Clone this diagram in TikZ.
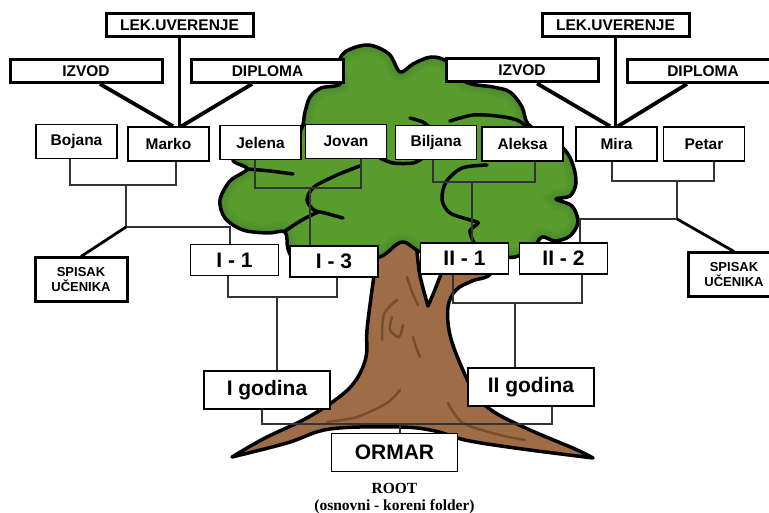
\documentclass[tikz,border=0pt]{standalone}
\usepackage{fontspec}
\setmainfont{Liberation Serif}
\setsansfont{Liberation Sans}
\usetikzlibrary{positioning,calc}

\definecolor{leaf}{RGB}{88,156,46}
\definecolor{leafdark}{RGB}{60,116,40}
\definecolor{bark}{RGB}{158,109,72}
\definecolor{barkdark}{RGB}{118,78,46}

\begin{document}
\begin{tikzpicture}[
  x=1pt, y=-1pt,
  box/.style={
    draw, fill=white, line width=1.5pt, inner sep=0pt, align=center,
    font=\sffamily\bfseries\fontsize{15.5}{17}\selectfont,
  },
  pupil/.style={box, minimum width=81pt, minimum height=34pt},
  classbox/.style={box, minimum width=88pt, minimum height=31pt,
    font=\sffamily\bfseries\fontsize{21}{24}\selectfont},
  yearbox/.style={box, minimum width=126pt, minimum height=38pt,
    font=\sffamily\bfseries\fontsize{21}{24}\selectfont},
  docbox/.style={box, line width=3pt, minimum width=152pt, minimum height=23pt},
  listbox/.style={box, line width=3pt, minimum width=92pt, minimum height=44pt,
    font=\sffamily\bfseries\fontsize{13}{15}\selectfont},
  rootnote/.style={font=\rmfamily\bfseries\fontsize{15.5}{17}\selectfont, inner sep=0pt},
  conn/.style={draw=black!80, line width=1.3pt},
  doclink/.style={draw, line width=3.8pt},
  listlink/.style={draw, line width=2.8pt},
  curl/.style={draw, line width=3.5pt, line cap=round},
  barkline/.style={draw=barkdark, line width=2.5pt, line cap=round},
  ]
  \useasboundingbox (0,0) rectangle (769,513);

  % trunk with the two roots
  \path[fill=bark, draw, line width=3.5pt, line join=round]
    plot[smooth, tension=.6] coordinates {(380,235) (376,262) (372,290) (367,330)
      (366,357) (356,380) (338,398) (305,419) (265,438) (232,457)}
    -- plot[smooth, tension=.6] coordinates {(232,457) (287,443) (330,429)
      (400,427) (435,431) (465,440) (515,448) (593,458)}
    -- plot[smooth, tension=.6] coordinates {(593,458) (575,449) (530,430)
      (494,412) (476,395) (462,368) (450,335) (448,307) (456,290) (472,281)
      (492,272) (500,235)}
    -- (446,240)
    -- plot[smooth, tension=.6] coordinates {(441,274) (434,292) (428,306)}
    -- plot[smooth, tension=.6] coordinates {(428,306) (423,288) (419,270) (416,240)}
    -- cycle;
  \draw[barkline] plot[smooth] coordinates {(407,277) (412,292) (418,305)};
  \draw[barkline] plot[smooth] coordinates {(382,340) (384,314) (397,300)};
  \draw[barkline] plot[smooth] coordinates {(392,317) (390,330) (399,337) (403,325)};
  \draw[barkline] plot[smooth] coordinates {(413,337) (416,347) (420,357)};
  \draw[barkline] plot[smooth] coordinates {(400,390) (387,403) (357,417) (327,422)};
  \draw[barkline] plot[smooth] coordinates {(448,403) (463,423) (500,435) (525,440)};

  % crown
  \path[fill=leaf, save path=\crownpath]
    plot[smooth cycle, tension=.55] coordinates {
      (300,131) (305,112) (310,97) (321,88) (340,84) (337,68) (345,52)
      (368,45) (389,54) (400,72) (413,64) (431,57) (448,62) (466,82)
      (493,87) (510,92) (522,107) (528,124) (547,136) (565,150) (573,165)
      (576,183) (570,196) (556,199) (572,206) (578,222) (570,236) (555,241)
      (542,237) (533,248) (515,257) (495,256) (476,250) (445,253) (421,252)
      (402,242) (382,256) (360,261) (330,262) (296,259) (288,249) (285,232)
      (268,233) (243,230) (225,218) (220,200) (230,181) (247,169) (233,160)
      (250,146) (277,138)};
  \begin{scope}
    \clip[use path=\crownpath];
    \foreach \w in {18,12,6}
      \draw[use path=\crownpath, leafdark, line width=\w pt, opacity=.14];
  \end{scope}
  \draw[use path=\crownpath, line width=3.5pt, line join=round];
  \draw[curl] plot[smooth] coordinates {(247,169) (270,171) (293,174)};
  \draw[curl] plot[smooth] coordinates {(360,166) (337,175) (314,187) (307,200)
    (314,210) (325,213) (343,218)};
  \draw[curl] plot[smooth] coordinates {(285,231) (302,220) (318,212)};
  \draw[curl] plot[smooth] coordinates {(487,165) (462,168) (446,182) (442,200)
    (450,213) (470,220) (478,223) (470,231) (474,243)};
  \draw[curl] plot[smooth] coordinates {(410,118) (423,122) (429,127)};
  \draw[curl] plot[smooth] coordinates {(450,121) (473,115) (497,116) (517,120) (528,128)};
  \draw[curl] plot[smooth] coordinates {(380,158) (393,163) (413,163) (423,158)};

  % documents
  \node[docbox, minimum width=147pt] (lekL) at (179.5,25.5) {LEK.UVERENJE};
  \node[docbox] (izvodL)   at (86,71)    {IZVOD};
  \node[docbox] (diplomaL) at (267.5,71) {DIPLOMA};
  \node[docbox, minimum width=147pt] (lekR) at (615.5,25.5) {LEK.UVERENJE};
  \node[docbox] (izvodR)   at (522,70.5) {IZVOD};
  \node[docbox] (diplomaR) at (703,71)   {DIPLOMA};

  % pupils
  \node[pupil] (bojana)  at (76.5,141.5) {Bojana};
  \node[pupil] (marko)   at (168.5,144)  {Marko};
  \node[pupil] (jelena)  at (260.5,142.5) {Jelena};
  \node[pupil] (jovan)   at (346,141.5)  {Jovan};
  \node[pupil] (biljana) at (436,142.5)  {Biljana};
  \node[pupil] (aleksa)  at (522.5,144)  {Aleksa};
  \node[pupil] (mira)    at (616.5,144)  {Mira};
  \node[pupil] (petar)   at (704,144)    {Petar};

  % classes, years, root
  \node[listbox] (spisakL) at (81,280)  {SPISAK\\UČENIKA};
  \node[listbox] (spisakR) at (734,275) {SPISAK\\UČENIKA};
  \node[classbox] (i1)  at (234.5,260)   {I - 1};
  \node[classbox] (i3)  at (334,261.5)   {I - 3};
  \node[classbox] (ii1) at (464.5,258.5) {II - 1};
  \node[classbox] (ii2) at (563.5,258.5) {II - 2};
  \node[yearbox] (igod)  at (267,390)     {I godina};
  \node[yearbox] (iigod) at (531,387)     {II godina};
  \node[yearbox] (ormar) at (394.5,452.5) {ORMAR};
  \node[rootnote, anchor=base] (roottxt) at (394.5,493) {ROOT};
  \node[rootnote, anchor=base] (rootsub) at ($(roottxt.base)+(0,17)$)
    {(osnovni - koreni folder)};

  % document links
  \draw[doclink] ([xshift=14]izvodL.south) -- ([xshift=4.5]marko.north);
  \draw[doclink] (lekL.south) -- (lekL.south |- marko.north);
  \draw[doclink] ([xshift=-15.5]diplomaL.south) -- ([xshift=13]marko.north);
  \draw[doclink] ([xshift=15]izvodR.south) -- ([xshift=-6.5]mira.north);
  \draw[doclink] (lekR.south) -- (lekR.south |- mira.north);
  \draw[doclink] ([xshift=-16]diplomaR.south) -- ([xshift=1.5]mira.north);

  % brackets
  \coordinate (jBM) at (126,185);
  \coordinate (kL)  at (126,227);
  \coordinate (jJJ) at (310,188);
  \coordinate (jBA) at (472,182);
  \coordinate (jMP) at (677,181);
  \coordinate (kR)  at (677,219);
  \coordinate (jI)  at (277,297);
  \coordinate (jII) at (515,303);
  \coordinate (jY)  at (400,424);
  \draw[conn] ([xshift=-6.5]bojana.south) |- (jBM) -| ([xshift=7.5]marko.south);
  \draw[conn] (jBM) -- (kL) -| ([xshift=-4.5]i1.north);
  \draw[listlink] (kL) -- (spisakL.north);
  \draw[conn] ([xshift=-5.5]jelena.south) |- (jJJ) -| ([xshift=15]jovan.south);
  \draw[conn] (jJJ) -- (jJJ |- i3.north);
  \draw[conn] ([xshift=-3]biljana.south) |- (jBA) -| ([xshift=12.5]aleksa.south);
  \draw[conn] (jBA) -- (jBA |- ii1.north);
  \draw[conn] ([xshift=-4.5]mira.south) |- (jMP) -| ([xshift=10]petar.south);
  \draw[conn] (jMP) -- (kR) -| ([xshift=16.5]ii2.north);
  \draw[listlink] (kR) -- (spisakR.north);
  \draw[conn] ([xshift=-6.5]i1.south) |- (jI) -| ([xshift=3]i3.south);
  \draw[conn] (jI) -- (jI |- igod.north);
  \draw[conn] ([xshift=-11.5]ii1.south) |- (jII) -| ([xshift=18.5]ii2.south);
  \draw[conn] (jII) -- (jII |- iigod.north);
  \draw[conn] ([xshift=-5]igod.south) |- (jY) -| ([xshift=21]iigod.south);
  \draw[conn] (jY) -- (jY |- ormar.north);
\end{tikzpicture}
\end{document}
